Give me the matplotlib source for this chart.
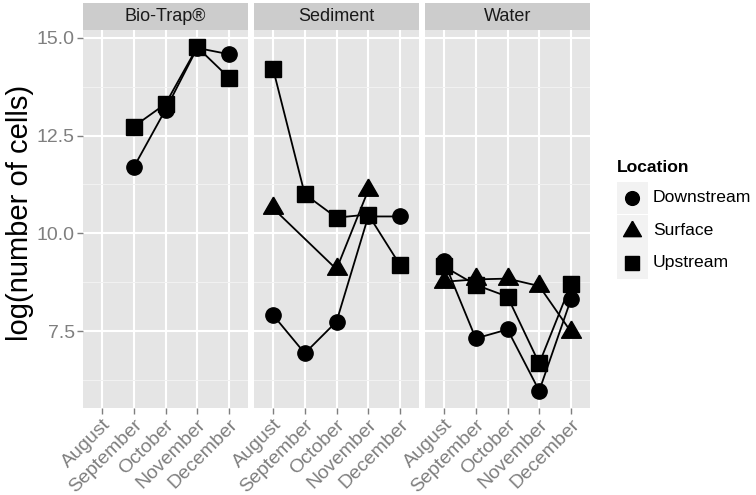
import numpy as np
import matplotlib
matplotlib.use("Agg")
from matplotlib import pyplot as plt
from matplotlib.patches import Rectangle
from matplotlib.lines import Line2D

plt.rcParams["font.family"] = ["Liberation Sans", "DejaVu Sans"]

# data
months = ["August", "September", "October", "November", "December"]
panels = ["Bio-Trap®", "Sediment", "Water"]
locations = ["Downstream", "Surface", "Upstream"]
nan = np.nan

biotrap_downstream = [nan, 11.69, 13.16, 14.74, 14.58]
biotrap_surface = [nan, nan, nan, nan, nan]
biotrap_upstream = [nan, 12.73, 13.31, 14.76, 13.98]

sediment_downstream = [7.91, 6.93, 7.74, 10.43, 10.43]
sediment_surface = [10.64, nan, 9.08, 11.10, nan]
sediment_upstream = [14.21, 11.00, 10.40, 10.48, 9.19]

water_downstream = [9.28, 7.31, 7.54, 5.97, 8.31]
water_surface = [8.76, 8.82, 8.84, 8.65, 7.48]
water_upstream = [9.15, 8.68, 8.38, 6.67, 8.70]

values = {
    "Bio-Trap®": [biotrap_downstream, biotrap_surface, biotrap_upstream],
    "Sediment": [sediment_downstream, sediment_surface, sediment_upstream],
    "Water": [water_downstream, water_surface, water_upstream],
}

# equilateral triangle like ggplot's shape 17
tri = [(0, 1), (-0.866, -0.5), (0.866, -0.5), (0, 1)]
shape = {"Downstream": ("o", 11), "Surface": (tri, 16.5), "Upstream": ("s", 11.5)}

W, H = 756, 495
fig = plt.figure(figsize=(W / 100, H / 100), dpi=100)


def px_axes(x0, y0, x1, y1):
    return fig.add_axes([x0 / W, 1 - y1 / H, (x1 - x0) / W, (y1 - y0) / H])


allv = np.array([v for p in panels for s in values[p] for v in s], dtype=float)
lo, hi = np.nanmin(allv), np.nanmax(allv)
pad = 0.05 * (hi - lo)

grey = "#7F7F7F"
lefts = [83, 254, 425]
pw = 165
ptop, pbot = 30, 408

for k, name in enumerate(panels):
    x0 = lefts[k]
    ax = px_axes(x0, ptop, x0 + pw, pbot)
    ax.set_facecolor("#E5E5E5")
    for sp in ax.spines.values():
        sp.set_visible(False)
    ax.set_xlim(-0.6, len(months) - 0.4)
    ax.set_ylim(lo - pad, hi + pad)
    ax.set_yticks([7.5, 10.0, 12.5, 15.0])
    ax.set_yticks([6.25, 8.75, 11.25, 13.75], minor=True)
    ax.set_xticks(range(len(months)))
    ax.grid(True, which="major", color="white", lw=1.5)
    ax.grid(True, which="minor", axis="y", color="#F2F2F2", lw=0.7)
    ax.set_axisbelow(True)
    ax.tick_params(which="major", color=grey, length=4, width=1,
                   labelcolor=grey, labelsize=14, pad=2)
    ax.tick_params(which="minor", length=0)
    ax.set_xticklabels(months, rotation=45, ha="right", va="top",
                       rotation_mode="anchor")
    if k == 0:
        ax.set_yticklabels(["7.5", "10.0", "12.5", "15.0"])
    else:
        ax.tick_params(axis="y", which="both", left=False, labelleft=False)

    for loc, series in zip(locations, values[name]):
        arr = np.array(series, dtype=float)
        idx = np.where(~np.isnan(arr))[0]
        if len(idx) == 0:
            continue
        m, ms = shape[loc]
        ax.plot(idx, arr[idx], color="black", lw=1.3, zorder=2)
        ax.plot(idx, arr[idx], ls="none", marker=m, ms=ms, color="black",
                mec="black", zorder=3)

    strip = px_axes(x0, 3, x0 + pw, ptop)
    strip.set_facecolor("#CCCCCC")
    strip.set_xticks([])
    strip.set_yticks([])
    for sp in strip.spines.values():
        sp.set_visible(False)
    strip.text(0.5, 0.5, name, ha="center", va="center", fontsize=13,
               color="#1A1A1A", transform=strip.transAxes)

fig.text(20 / W, 1 - 213 / H, "log(number of cells)", rotation=90,
         ha="center", va="center", fontsize=21)

# legend
fig.text(617 / W, 1 - 168 / H, "Location", ha="left", va="center",
         fontsize=12.6, fontweight="bold")
for i, loc in enumerate(locations):
    cy = 198 + i * 32.5
    fig.patches.append(Rectangle(((617) / W, 1 - (cy + 16) / H), 31 / W, 32 / H,
                                 transform=fig.transFigure, facecolor="#F2F2F2",
                                 edgecolor="none"))
    m, ms = shape[loc]
    fig.lines.append(Line2D([632 / W], [1 - cy / H], marker=m, ms=ms * 0.9,
                            color="black", ls="none", transform=fig.transFigure))
    fig.text(653 / W, 1 - cy / H, loc, ha="left", va="center", fontsize=12.6)

fig.savefig("out.png", dpi=100)
